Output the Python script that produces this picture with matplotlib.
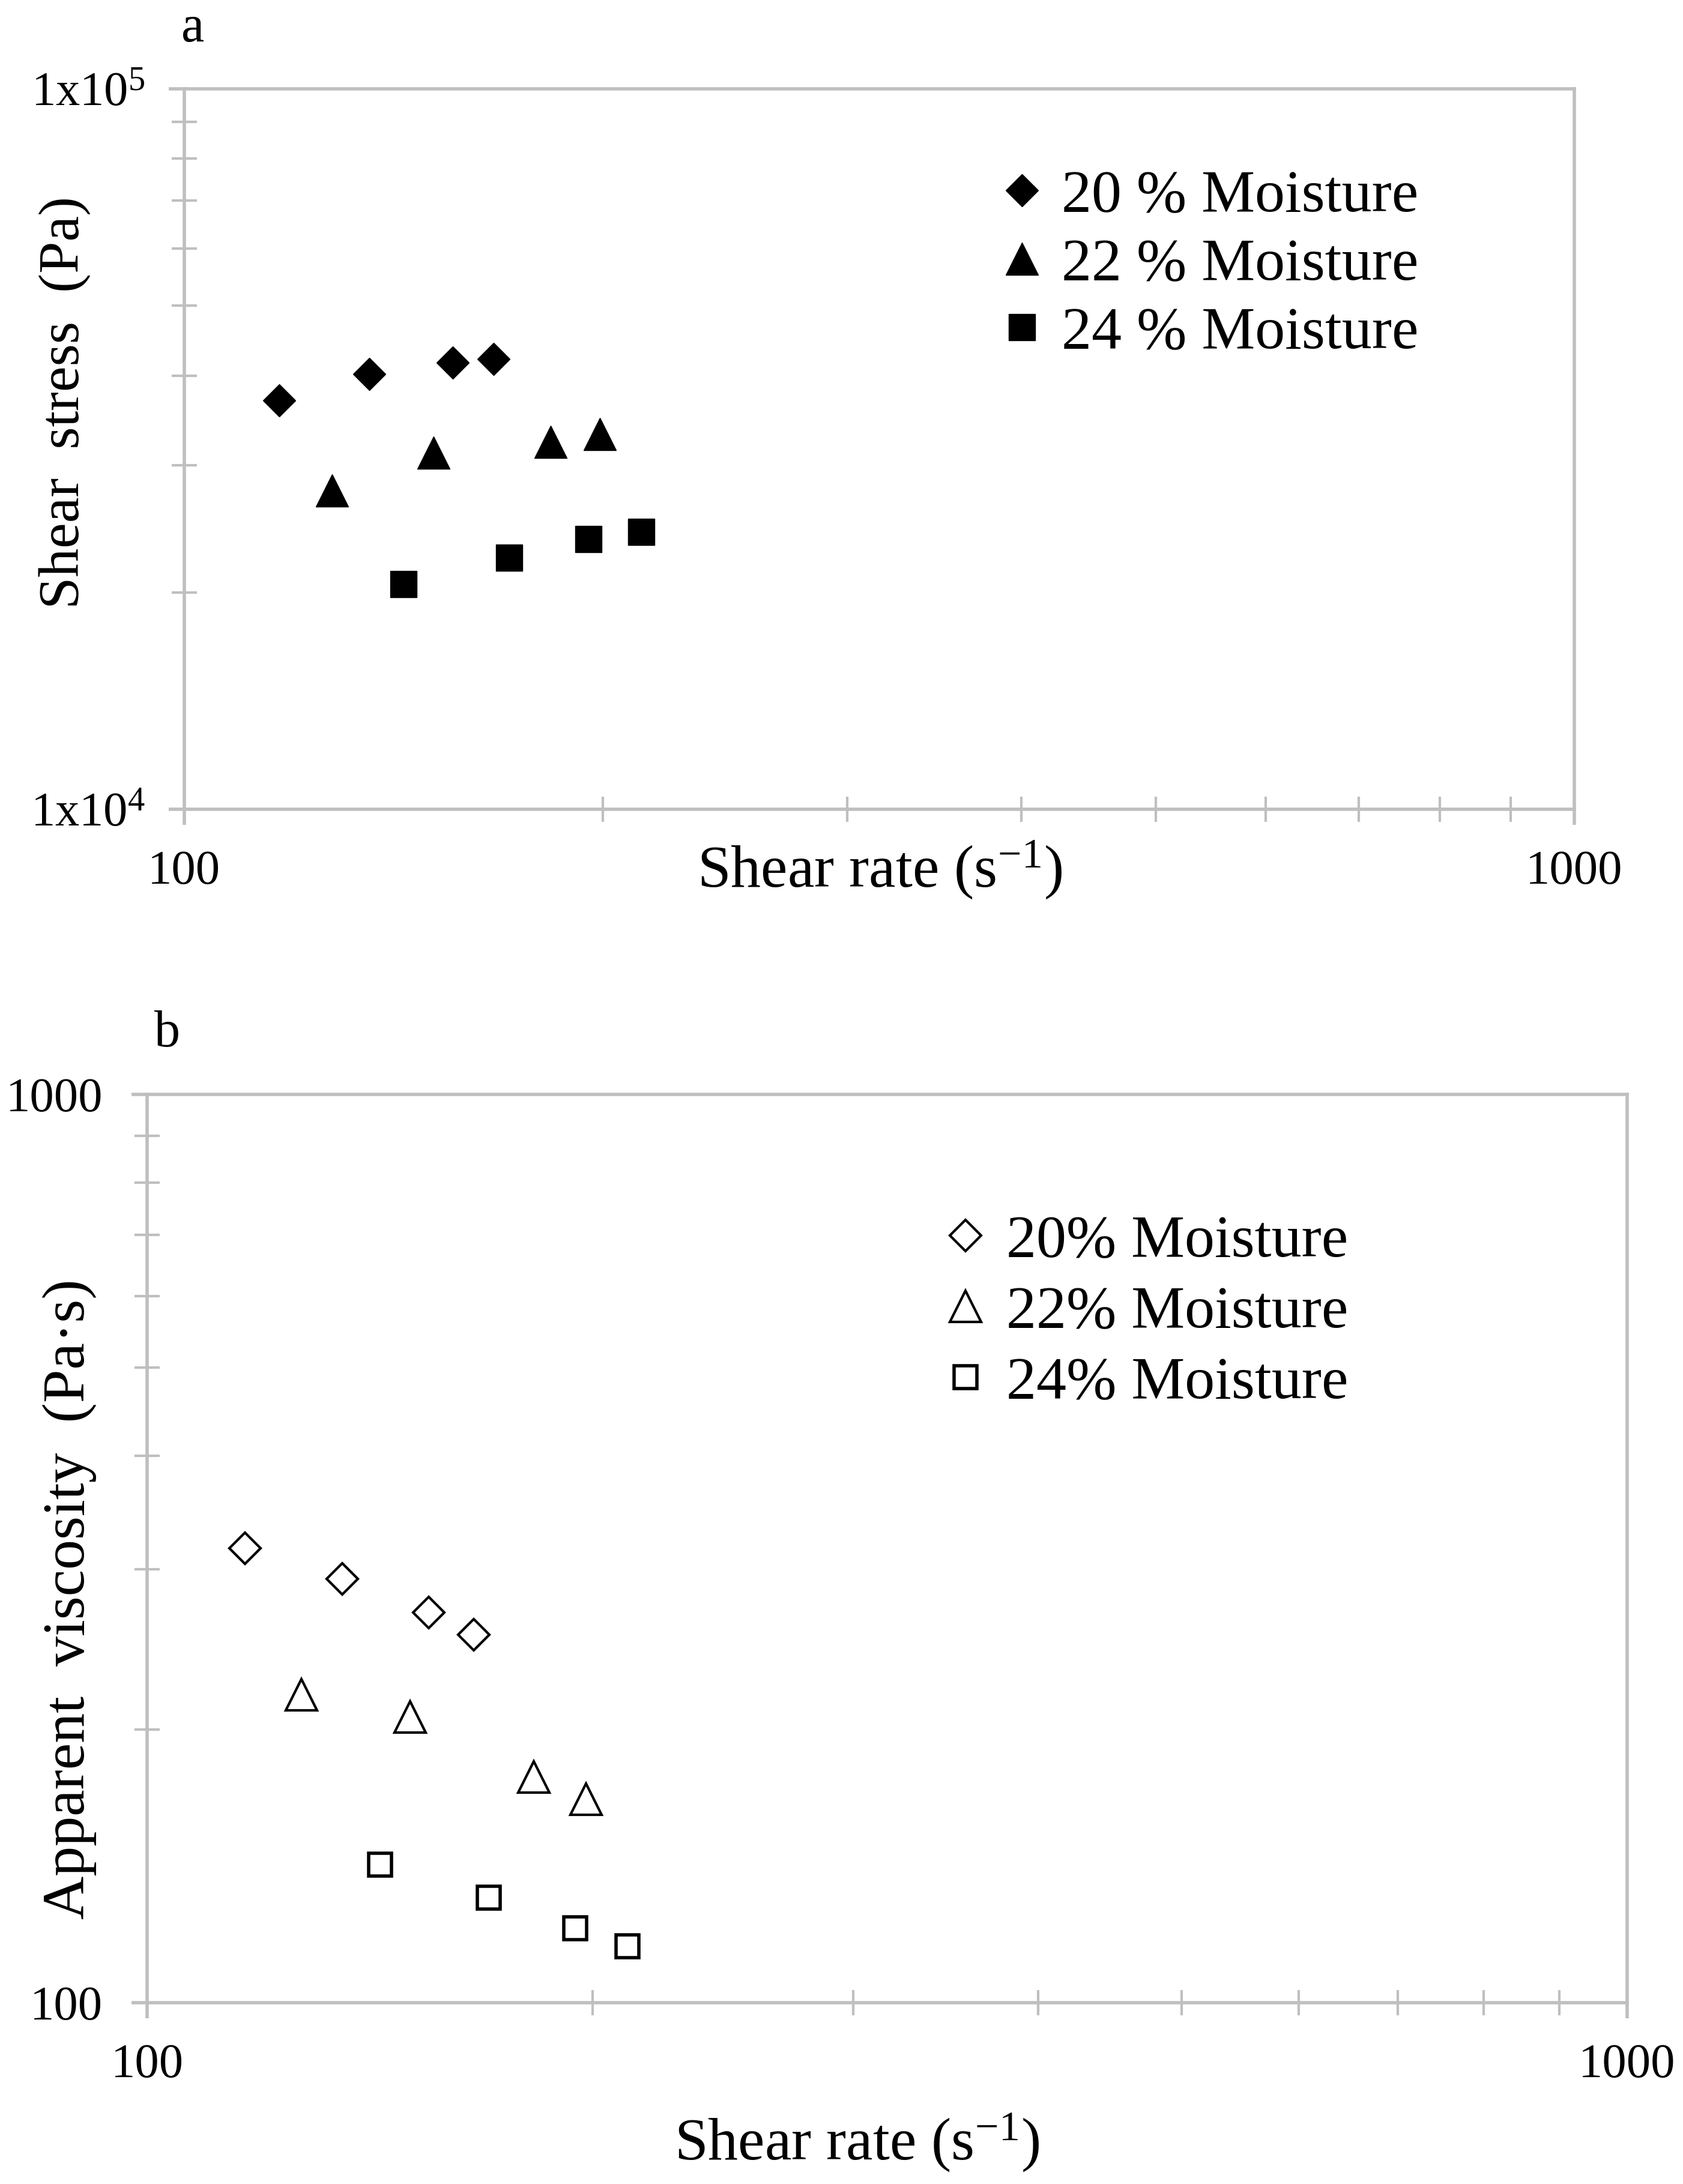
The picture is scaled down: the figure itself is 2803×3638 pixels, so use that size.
import matplotlib
matplotlib.use('Agg')
import matplotlib.pyplot as plt
from matplotlib.ticker import FixedLocator, FixedFormatter, LogLocator, NullFormatter

plt.rcParams['font.family'] = ['Liberation Serif', 'DejaVu Serif']
plt.rcParams['mathtext.fontset'] = 'custom'
plt.rcParams['mathtext.rm'] = 'Liberation Serif'
plt.rcParams['mathtext.it'] = 'Liberation Serif:italic'
plt.rcParams['mathtext.bf'] = 'Liberation Serif:bold'

# ---- data ----
labels_a = ['20 % Moisture', '22 % Moisture', '24 % Moisture']
rate_a_20 = [117.0, 135.8, 156.0, 166.9]
stress_20 = [36940, 40200, 41690, 42170]
rate_a_22 = [127.7, 151.1, 183.5, 199.0]
stress_22 = [27700, 31260, 32360, 33180]
rate_a_24 = [143.8, 171.3, 195.3, 213.2]
stress_24 = [20540, 22350, 23710, 24270]

labels_b = ['20% Moisture', '22% Moisture', '24% Moisture']
rate_b_20 = [116.5, 135.5, 155.0, 166.2]
visc_20 = [316.5, 293.0, 269.0, 254.2]
rate_b_22 = [127.1, 150.5, 182.5, 198.0]
visc_22 = [218.2, 206.3, 177.3, 167.4]
rate_b_24 = [143.7, 170.2, 194.7, 211.2]
visc_24 = [142.0, 130.5, 120.8, 115.3]

xticks = [100, 1000]
xticklabels = ['100', '1000']
yticks_a = [1e4, 1e5]
yticklabels_a = [r'1x10$^{\mathregular{4}}$', r'1x10$^{\mathregular{5}}$']
yticks_b = [100, 1000]
yticklabels_b = ['100', '1000']

GRAY = '#bfbfbf'
TICK_FS = 58
LABEL_FS = 72
LEG_FS = 72

fig = plt.figure(figsize=(28.03, 36.38), dpi=100)


def style_axes(ax, yticks, yticklabels, xpad, ypad):
    ax.set_xscale('log')
    ax.set_yscale('log')
    for sp in ax.spines.values():
        sp.set_color(GRAY)
        sp.set_linewidth(4)
    ax.xaxis.set_major_locator(FixedLocator(xticks))
    ax.xaxis.set_major_formatter(FixedFormatter(xticklabels))
    ax.yaxis.set_major_locator(FixedLocator(yticks))
    ax.yaxis.set_major_formatter(FixedFormatter(yticklabels))
    ax.xaxis.set_minor_locator(LogLocator(base=10, subs=range(2, 10)))
    ax.yaxis.set_minor_locator(LogLocator(base=10, subs=range(2, 10)))
    ax.xaxis.set_minor_formatter(NullFormatter())
    ax.yaxis.set_minor_formatter(NullFormatter())
    ax.tick_params(which='major', direction='out', length=19, width=4, color=GRAY,
                   labelsize=TICK_FS, labelcolor='black')
    ax.tick_params(axis='x', which='major', pad=xpad)
    ax.tick_params(axis='y', which='major', pad=ypad)
    ax.tick_params(which='minor', direction='inout', length=30, width=3, color=GRAY)
    ax.tick_params(top=False, right=False, which='both')


# ---- panel a ----
ax1 = fig.add_axes([0.1095, 0.6295, 0.8259, 0.3298])
ax1.plot(rate_a_20, stress_20, 'D', ms=27.5, color='black', mew=1, ls='none', label=labels_a[0])
ax1.plot(rate_a_22, stress_22, '^', ms=39, color='black', mew=1, ls='none', label=labels_a[1])
ax1.plot(rate_a_24, stress_24, 's', ms=31, color='black', mew=1, ls='none', label=labels_a[2])
ax1.set_xlim(100, 1000)
ax1.set_ylim(1e4, 1e5)
style_axes(ax1, yticks_a, yticklabels_a, xpad=30, ypad=28)
ax1.legend(loc='upper left', bbox_to_anchor=(0.5929, 0.9225), bbox_transform=fig.transFigure,
           frameon=False, fontsize=LEG_FS, handlelength=0.8, handletextpad=0.26,
           labelspacing=0.23, borderpad=0, borderaxespad=0, numpoints=1)

fig.text(0.1145, 0.9868, 'a', fontsize=62, ha='center', va='center')
fig.text(0.5227, 0.594, r'Shear rate (s$^{\mathregular{-1}}$)', fontsize=LABEL_FS,
         ha='center', va='baseline')
fig.text(0.0385, 0.8156, 'Shear  stress  (Pa)', fontsize=69, rotation=90,
         ha='center', va='center')

# ---- panel b ----
ax2 = fig.add_axes([0.0874, 0.0830, 0.8794, 0.4159])
ax2.plot(rate_b_20, visc_20, 'D', ms=26, mfc='white', mec='black', mew=3, ls='none', label=labels_b[0])
ax2.plot(rate_b_22, visc_22, '^', ms=37, mfc='white', mec='black', mew=3, ls='none', label=labels_b[1])
ax2.plot(rate_b_24, visc_24, 's', ms=27.5, mfc='white', mec='black', mew=4, ls='none', label=labels_b[2])
ax2.set_xlim(100, 1000)
ax2.set_ylim(100, 1000)
style_axes(ax2, yticks_b, yticklabels_b, xpad=30, ypad=34)
ax2.legend(loc='upper left', bbox_to_anchor=(0.5594, 0.4439), bbox_transform=fig.transFigure,
           frameon=False, fontsize=LEG_FS, handlelength=0.8, handletextpad=0.28,
           labelspacing=0.27, borderpad=0, borderaxespad=0, numpoints=1)

fig.text(0.0993, 0.5267, 'b', fontsize=62, ha='center', va='center')
fig.text(0.509, 0.0113, r'Shear rate (s$^{\mathregular{-1}}$)', fontsize=LABEL_FS,
         ha='center', va='baseline')
fig.text(0.0414, 0.2677, 'Apparent  viscosity  (Pa·s)', fontsize=LABEL_FS, rotation=90,
         ha='center', va='center')

fig.savefig('out.png', dpi=100, facecolor='white')
